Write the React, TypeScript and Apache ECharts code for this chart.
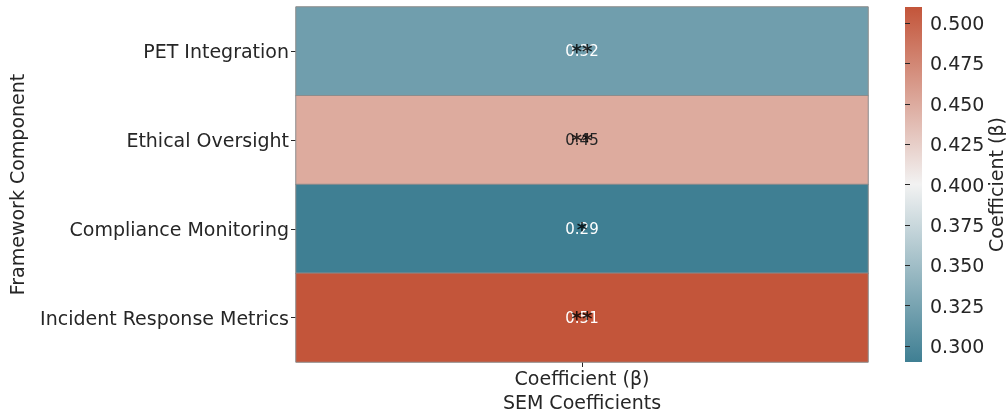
import React, { useEffect, useRef } from "react";
import * as echarts from "echarts";

const components = [
  "PET Integration",
  "Ethical Oversight",
  "Compliance Monitoring",
  "Incident Response Metrics",
];
const columns = ["Coefficient (β)"];
const coefficients = [0.32, 0.45, 0.29, 0.51];
const significance = ["**", "**", "*", "**"];
const colorbarTicks = [0.3, 0.325, 0.35, 0.375, 0.4, 0.425, 0.45, 0.475, 0.5];
const colorMin = 0.29;
const colorMax = 0.51;
const palette = ["#3f7f93", "#f2f2f2", "#c3553a"];

const FONT = "DejaVu Sans";
const TEXT = "#262626";
const FS = 19;

function hexToRgb(h: string) {
  const n = parseInt(h.slice(1), 16);
  return [(n >> 16) & 255, (n >> 8) & 255, n & 255];
}
function colorAt(v: number) {
  const t = Math.max(0, Math.min(1, (v - colorMin) / (colorMax - colorMin)));
  const seg = t < 0.5 ? 0 : 1;
  const lt = t < 0.5 ? t * 2 : (t - 0.5) * 2;
  const a = hexToRgb(palette[seg]);
  const b = hexToRgb(palette[seg + 1]);
  return a.map((c, i) => c + (b[i] - c) * lt);
}
function textColorFor(v: number) {
  const lin = colorAt(v).map((c) => {
    const s = c / 255;
    return s <= 0.03928 ? s / 12.92 : Math.pow((s + 0.055) / 1.055, 2.4);
  });
  const lum = 0.2126 * lin[0] + 0.7152 * lin[1] + 0.0722 * lin[2];
  return lum > 0.408 ? TEXT : "#ffffff";
}

export default function App() {
  const ref = useRef<HTMLDivElement>(null);
  useEffect(() => {
    if (!ref.current) return;
    const chart = echarts.init(ref.current, null, { renderer: "svg" });
    const gridTop = 7;
    const gridH = 355;
    const cbLeft = 905;
    const cbW = 17;
    chart.setOption({
      animation: false,
      textStyle: { fontFamily: FONT, color: TEXT },
      grid: [
        { left: 296, right: 138, top: gridTop, height: gridH, outerBoundsMode: "none", containLabel: false },
        { left: cbLeft, width: cbW, top: gridTop, height: gridH, outerBoundsMode: "none", containLabel: false },
      ],
      xAxis: [
        {
          type: "category",
          gridIndex: 0,
          data: columns,
          axisLine: { show: false },
          axisTick: { show: true, alignWithLabel: true, length: 5, lineStyle: { color: TEXT } },
          axisLabel: { fontSize: FS, color: TEXT, margin: 6, fontFamily: FONT },
          name: "SEM Coefficients",
          nameLocation: "middle",
          nameGap: 30,
          nameMoveOverlap: false,
          nameTextStyle: { fontSize: FS, color: TEXT, fontFamily: FONT },
          splitLine: { show: false },
        },
        { type: "value", gridIndex: 1, show: false, min: 0, max: 1 },
      ],
      yAxis: [
        {
          type: "category",
          gridIndex: 0,
          data: components,
          inverse: true,
          axisLine: { show: false },
          axisTick: { show: true, alignWithLabel: true, length: 5, lineStyle: { color: TEXT } },
          axisLabel: { fontSize: FS, color: TEXT, margin: 7, fontFamily: FONT },
          name: "Framework Component",
          nameLocation: "middle",
          nameGap: 270,
          nameMoveOverlap: false,
          nameRotate: 90,
          nameTextStyle: { fontSize: FS, color: TEXT, fontFamily: FONT },
          splitLine: { show: false },
        },
        {
          type: "value",
          gridIndex: 1,
          position: "right",
          min: colorMin,
          max: colorMax,
          axisLine: { show: false },
          axisTick: {
            show: true,
            length: 5,
            customValues: colorbarTicks,
            lineStyle: { color: TEXT },
          },
          axisLabel: {
            show: true,
            customValues: colorbarTicks,
            formatter: (v: number) => v.toFixed(3),
            fontSize: FS,
            color: TEXT,
            margin: 8,
            fontFamily: FONT,
          },
          splitLine: { show: false },
          name: "Coefficient (β)",
          nameLocation: "middle",
          nameGap: 64,
          nameMoveOverlap: false,
          nameRotate: 90,
          nameTextStyle: { fontSize: FS, color: TEXT, fontFamily: FONT },
        },
      ],
      visualMap: {
        type: "continuous",
        show: false,
        min: colorMin,
        max: colorMax,
        dimension: 2,
        seriesIndex: 0,
        inRange: { color: palette },
      },
      graphic: [
        {
          type: "rect",
          z: -1,
          shape: { x: cbLeft, y: gridTop, width: cbW, height: gridH },
          style: {
            fill: new echarts.graphic.LinearGradient(0, 0, 0, 1, [
              { offset: 0, color: palette[2] },
              { offset: 0.5, color: palette[1] },
              { offset: 1, color: palette[0] },
            ]),
          },
        },
      ],
      series: [
        {
          type: "heatmap",
          xAxisIndex: 0,
          yAxisIndex: 0,
          data: coefficients.map((v, i) => ({
            value: [0, i, v],
            label: { color: textColorFor(v) },
          })),
          itemStyle: { borderColor: "#8c8c8c", borderWidth: 1 },
          label: {
            show: true,
            fontSize: 15,
            fontFamily: FONT,
            formatter: (p: any) => p.value[2].toFixed(2),
          },
          emphasis: { disabled: true },
        },
        {
          type: "scatter",
          xAxisIndex: 0,
          yAxisIndex: 0,
          symbolSize: 1,
          itemStyle: { color: "rgba(0,0,0,0)" },
          z: 5,
          data: significance.map((s, i) => ({ value: [0, i], name: s })),
          label: {
            show: true,
            position: "inside",
            formatter: (p: any) => p.name,
            fontSize: 20,
            fontWeight: "bold",
            color: "#000000",
            fontFamily: FONT,
            offset: [0, 0],
          },
          emphasis: { disabled: true },
        },
      ],
    });
    return () => chart.dispose();
  }, []);
  return (
    <div
      ref={ref}
      style={{ position: "fixed", left: 0, top: 0, width: 1006, height: 414 }}
    />
  );
}
